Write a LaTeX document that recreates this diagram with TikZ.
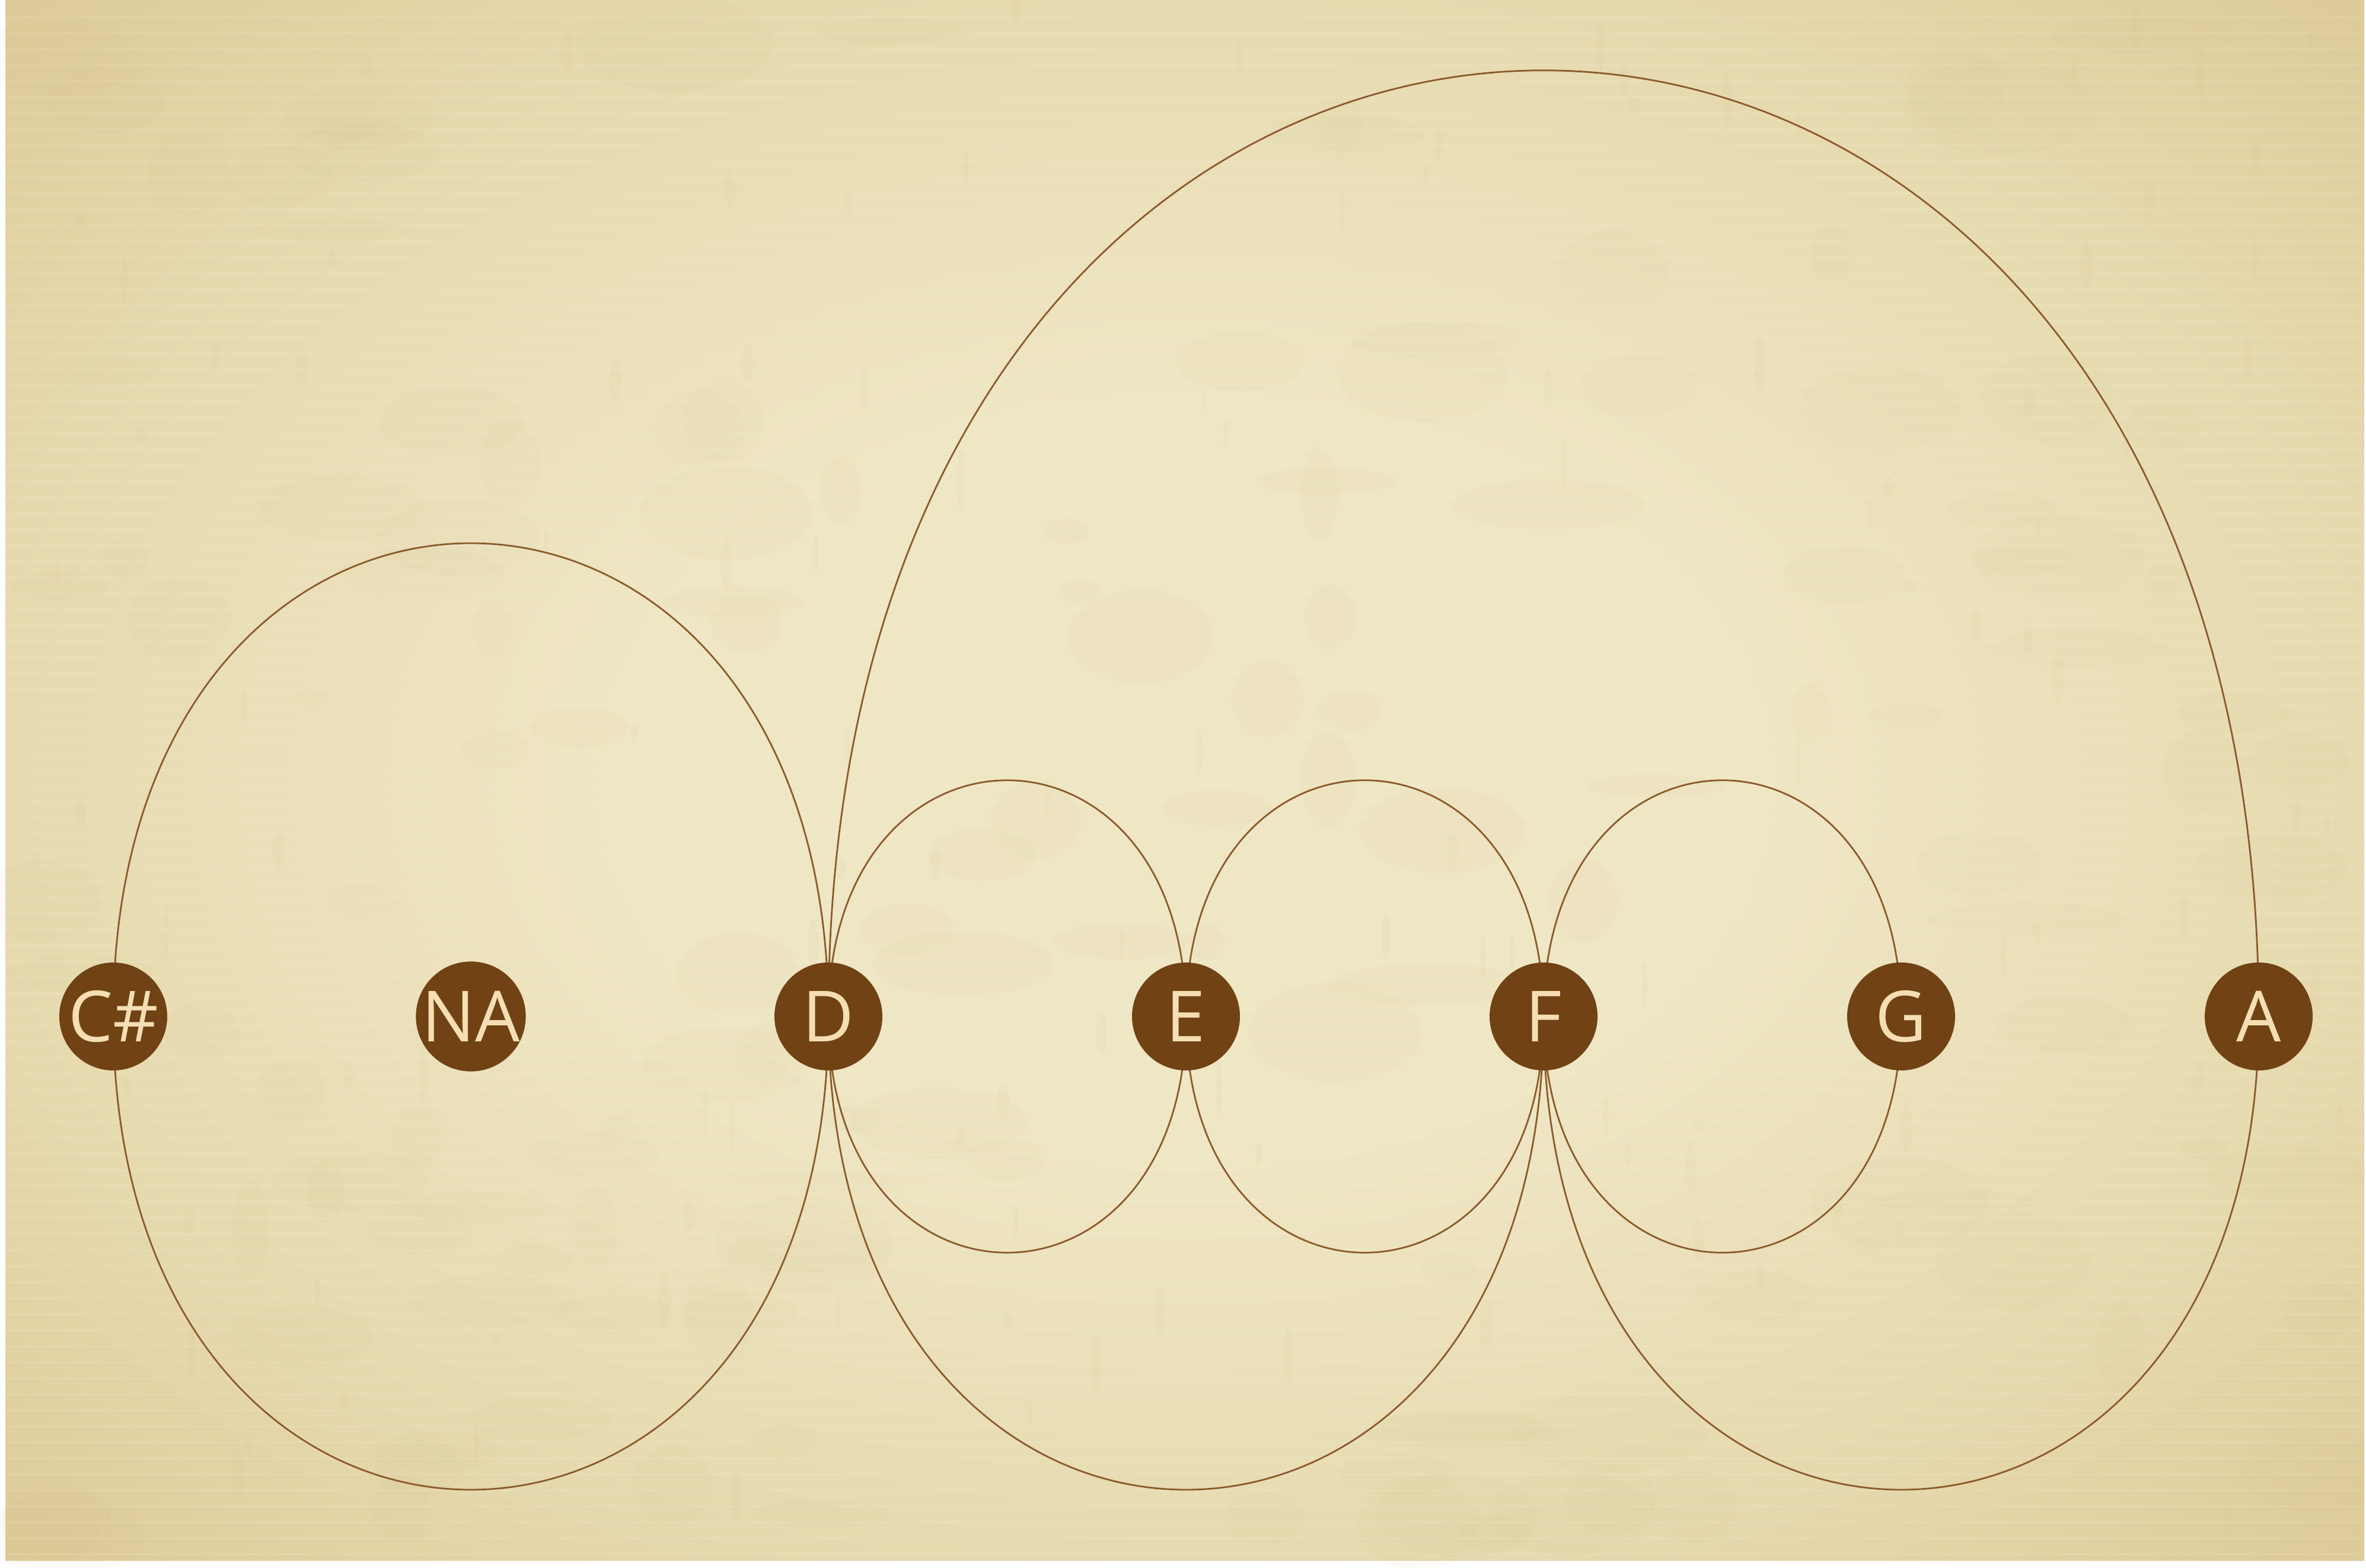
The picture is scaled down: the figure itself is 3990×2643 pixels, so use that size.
\documentclass[tikz,border=0pt]{standalone}
\usepackage{fontspec}
\setmainfont{Open Sans}
\definecolor{pl}{HTML}{EFE6C4}
\definecolor{pm}{HTML}{E6D9AE}
\definecolor{pd}{HTML}{DAC792}
\definecolor{pc}{HTML}{CFB97F}
\definecolor{spot}{HTML}{C8B174}
\definecolor{nodefill}{HTML}{704214}
\definecolor{linkcol}{HTML}{8B5A2B}
\definecolor{labelcol}{HTML}{F5DEB3}
\pgfdeclareradialshading{parchment}{\pgfpoint{0bp}{0bp}}{color(0bp)=(pl); color(12bp)=(pl); color(26bp)=(pm); color(38bp)=(pd); color(52bp)=(pc); color(72bp)=(pc)}
\pgfdeclarelayer{bg}
\pgfdeclarelayer{links}
\pgfsetlayers{bg,links,main}
\begin{document}
\begin{tikzpicture}[x=0.25pt,y=0.25pt,
  note/.style={circle,fill=nodefill,minimum size=45.5pt,inner sep=0pt,
    text=labelcol,font=\fontsize{29.75}{30}\selectfont,
    text height=21.25pt,text depth=0pt},
  link/.style={draw=linkcol,line width=0.7pt}]
\useasboundingbox (0,0) rectangle (3990,2643);
% nodes
\node[note] (Cs) at (191,929) {C\#};
\node[note] (NA) at (794,929) {NA};
\node[note] (D)  at (1397,929) {D};
\node[note] (E)  at (2000,929) {E};
\node[note] (F)  at (2603,929) {F};
\node[note] (G)  at (3206,929) {G};
\node[note] (A)  at (3809,929) {A};
% background
\begin{pgfonlayer}{bg}
\fill[white] (0,0) rectangle (3990,2643);
\shade[shading=parchment] (9,12) rectangle (3987,2643);
\pgfmathsetseed{11}
\foreach \i in {1,...,140}{
  \fill[spot,opacity=0.04] ({40+rnd*3910},{40+rnd*2570}) ellipse [x radius={30+rnd*140}, y radius={15+rnd*70}];
}
\foreach \i in {1,...,120}{
  \fill[spot,opacity=0.06] ({20+rnd*3950},{20+rnd*2610}) ellipse [x radius={3+rnd*8}, y radius={10+rnd*40}];
}
\foreach \k in {0,...,96}{
  \draw[white,opacity=0.14,line width=0.6pt] (9,{22+27*\k}) -- (3987,{22+27*\k});
}
\end{pgfonlayer}
% arcs
\begin{pgfonlayer}{links}
% upper
\draw[link] (Cs.center) .. controls +(0,1064) and +(0,1064) .. (D.center);
\draw[link] (D.center) .. controls +(0,531) and +(0,531) .. (E.center);
\draw[link] (E.center) .. controls +(0,531) and +(0,531) .. (F.center);
\draw[link] (F.center) .. controls +(0,531) and +(0,531) .. (G.center);
\draw[link] (D.center) .. controls +(0,2127) and +(0,2127) .. (A.center);
% lower
\draw[link] (Cs.center) .. controls +(0,-1064) and +(0,-1064) .. (D.center);
\draw[link] (D.center) .. controls +(0,-531) and +(0,-531) .. (E.center);
\draw[link] (E.center) .. controls +(0,-531) and +(0,-531) .. (F.center);
\draw[link] (F.center) .. controls +(0,-531) and +(0,-531) .. (G.center);
\draw[link] (D.center) .. controls +(0,-1064) and +(0,-1064) .. (F.center);
\draw[link] (F.center) .. controls +(0,-1064) and +(0,-1064) .. (A.center);
\end{pgfonlayer}
\end{tikzpicture}
\end{document}
